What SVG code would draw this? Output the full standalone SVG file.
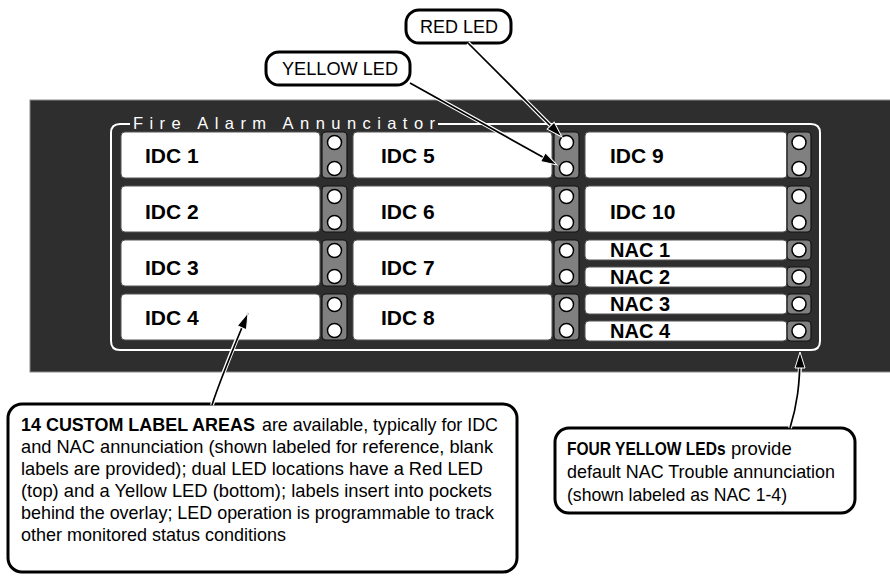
<svg xmlns="http://www.w3.org/2000/svg" width="890" height="576" viewBox="0 0 890 576">
<defs>
<style>
.lbl{fill:#fff;stroke:#555;stroke-width:1}
.strip{fill:#808080;stroke:#111;stroke-width:1.2}
.led{fill:#fff;stroke:#000;stroke-width:1.5}
.id{font-family:"Liberation Sans",Arial,sans-serif;font-weight:bold;font-size:21px;fill:#000}
.nac{font-family:"Liberation Sans",Arial,sans-serif;font-weight:bold;font-size:20px;fill:#000}
.callbox{fill:#fff;stroke:#000;stroke-width:3}
.ct{font-family:"Liberation Sans Narrow","Liberation Sans",Arial,sans-serif;font-size:18.5px;fill:#000}
.b{font-weight:bold}
.halo{fill:none;stroke:#fff;stroke-width:4}
.core{fill:none;stroke:#000;stroke-width:1.7;marker-end:url(#ah)}
</style>
<marker id="ah" markerUnits="userSpaceOnUse" viewBox="0 0 18 12" refX="17" refY="6" markerWidth="18" markerHeight="12" orient="auto">
<path d="M1,1 L17,6 L1,11 z" fill="#000" stroke="#fff" stroke-width="1"/>
</marker>
</defs>

<g id="panel">
<rect x="30" y="100" width="862" height="272" fill="#2e2e2e" stroke="#8a8a8a" stroke-width="1"/>
<path d="M130,124 L120,124 Q111,124 111,133 L111,341 Q111,350 120,350 L811,350 Q820,350 820,341 L820,133 Q820,124 811,124 L438,124" fill="none" stroke="#fff" stroke-width="2"/>
<text x="133" y="129" font-family="Liberation Sans,Arial,sans-serif" font-size="16.5" fill="#fff" textLength="302" lengthAdjust="spacing">Fire Alarm Annunciator</text>
</g>

<g id="idc1"><rect class="lbl" x="121" y="132" width="199" height="46" rx="4"/><rect class="strip" x="322" y="132" width="25" height="46" rx="4"/><circle class="led" cx="334.5" cy="142.5" r="7"/><circle class="led" cx="334.5" cy="168.5" r="7"/><text class="id" x="145" y="163">IDC 1</text></g>
<g id="idc2"><rect class="lbl" x="121" y="186" width="199" height="46" rx="4"/><rect class="strip" x="322" y="186" width="25" height="46" rx="4"/><circle class="led" cx="334.5" cy="196.5" r="7"/><circle class="led" cx="334.5" cy="222.5" r="7"/><text class="id" x="145" y="219">IDC 2</text></g>
<g id="idc3"><rect class="lbl" x="121" y="240" width="199" height="46" rx="4"/><rect class="strip" x="322" y="240" width="25" height="46" rx="4"/><circle class="led" cx="334.5" cy="250.5" r="7"/><circle class="led" cx="334.5" cy="276.5" r="7"/><text class="id" x="145" y="275">IDC 3</text></g>
<g id="idc4"><rect class="lbl" x="121" y="294" width="199" height="46" rx="4"/><rect class="strip" x="322" y="294" width="25" height="46" rx="4"/><circle class="led" cx="334.5" cy="304.5" r="7"/><circle class="led" cx="334.5" cy="330.5" r="7"/><text class="id" x="145" y="325">IDC 4</text></g>

<g id="idc5"><rect class="lbl" x="353" y="132" width="199" height="46" rx="4"/><rect class="strip" x="554" y="132" width="25" height="46" rx="4"/><circle class="led" cx="566.5" cy="142.5" r="7"/><circle class="led" cx="566.5" cy="168.5" r="7"/><text class="id" x="381" y="163">IDC 5</text></g>
<g id="idc6"><rect class="lbl" x="353" y="186" width="199" height="46" rx="4"/><rect class="strip" x="554" y="186" width="25" height="46" rx="4"/><circle class="led" cx="566.5" cy="196.5" r="7"/><circle class="led" cx="566.5" cy="222.5" r="7"/><text class="id" x="381" y="219">IDC 6</text></g>
<g id="idc7"><rect class="lbl" x="353" y="240" width="199" height="46" rx="4"/><rect class="strip" x="554" y="240" width="25" height="46" rx="4"/><circle class="led" cx="566.5" cy="250.5" r="7"/><circle class="led" cx="566.5" cy="276.5" r="7"/><text class="id" x="381" y="275">IDC 7</text></g>
<g id="idc8"><rect class="lbl" x="353" y="294" width="199" height="46" rx="4"/><rect class="strip" x="554" y="294" width="25" height="46" rx="4"/><circle class="led" cx="566.5" cy="304.5" r="7"/><circle class="led" cx="566.5" cy="330.5" r="7"/><text class="id" x="381" y="325">IDC 8</text></g>

<g id="idc9"><rect class="lbl" x="585" y="132" width="202" height="46" rx="4"/><rect class="strip" x="787" y="132" width="24" height="46" rx="4"/><circle class="led" cx="799" cy="142.5" r="7"/><circle class="led" cx="799" cy="168.5" r="7"/><text class="id" x="610" y="163">IDC 9</text></g>
<g id="idc10"><rect class="lbl" x="585" y="186" width="202" height="46" rx="4"/><rect class="strip" x="787" y="186" width="24" height="46" rx="4"/><circle class="led" cx="799" cy="196.5" r="7"/><circle class="led" cx="799" cy="222.5" r="7"/><text class="id" x="610" y="219">IDC 10</text></g>

<g id="nac1"><rect class="lbl" x="585" y="240" width="202" height="20" rx="4"/><rect class="strip" x="787" y="240" width="24" height="20" rx="4"/><circle class="led" cx="799" cy="250" r="7"/><text class="nac" x="610" y="257">NAC 1</text></g>
<g id="nac2"><rect class="lbl" x="585" y="267" width="202" height="20" rx="4"/><rect class="strip" x="787" y="267" width="24" height="20" rx="4"/><circle class="led" cx="799" cy="277" r="7"/><text class="nac" x="610" y="284">NAC 2</text></g>
<g id="nac3"><rect class="lbl" x="585" y="294" width="202" height="20" rx="4"/><rect class="strip" x="787" y="294" width="24" height="20" rx="4"/><circle class="led" cx="799" cy="304" r="7"/><text class="nac" x="610" y="311">NAC 3</text></g>
<g id="nac4"><rect class="lbl" x="585" y="321" width="202" height="20" rx="4"/><rect class="strip" x="787" y="321" width="24" height="20" rx="4"/><circle class="led" cx="799" cy="331" r="7"/><text class="nac" x="610" y="338">NAC 4</text></g>

<g id="callout-red"><rect class="callbox" x="406" y="10" width="105" height="33" rx="13"/><text class="ct" x="420" y="33" textLength="78" lengthAdjust="spacingAndGlyphs">RED LED</text></g>
<g id="callout-yellow"><rect class="callbox" x="266" y="52" width="144" height="33" rx="13"/><text class="ct" x="282" y="75" textLength="116" lengthAdjust="spacingAndGlyphs">YELLOW LED</text></g>

<g id="callout-custom">
<rect class="callbox" x="8" y="404" width="509" height="168" rx="14"/>
<text class="ct b" transform="translate(21,431) scale(0.97,1)" x="0" y="0">14 CUSTOM LABEL AREAS</text>
<text class="ct" x="262" y="431" textLength="236" lengthAdjust="spacingAndGlyphs">are available, typically for IDC</text>
<text class="ct" x="21" y="453" textLength="472" lengthAdjust="spacingAndGlyphs">and NAC annunciation (shown labeled for reference, blank</text>
<text class="ct" x="21" y="475" textLength="462" lengthAdjust="spacingAndGlyphs">labels are provided); dual LED locations have a Red LED</text>
<text class="ct" x="21" y="497" textLength="471" lengthAdjust="spacingAndGlyphs">(top) and a Yellow LED (bottom); labels insert into pockets</text>
<text class="ct" x="21" y="519" textLength="473" lengthAdjust="spacingAndGlyphs">behind the overlay; LED operation is programmable to track</text>
<text class="ct" x="21" y="541" textLength="265" lengthAdjust="spacingAndGlyphs">other monitored status conditions</text>
</g>

<g id="callout-four">
<rect class="callbox" x="555" y="428" width="300" height="85" rx="14"/>
<text class="ct b" transform="translate(567,455) scale(0.84,1)" x="0" y="0">FOUR YELLOW LEDs</text>
<text class="ct" x="731" y="455">provide</text>
<text class="ct" x="567" y="478" textLength="268" lengthAdjust="spacingAndGlyphs">default NAC Trouble annunciation</text>
<text class="ct" x="567" y="501" textLength="220" lengthAdjust="spacingAndGlyphs">(shown labeled as NAC 1-4)</text>
</g>

<g id="connectors">
<path class="halo" d="M468,43 L551,126"/>
<path class="core" d="M468,43 L562,137"/>
<path class="halo" d="M410,83 L545,158"/>
<path class="core" d="M410,83 L557,165"/>
<path class="halo" d="M212,405 Q220,380 243,324"/>
<path class="core" d="M212,405 Q220,380 248,313"/>
<path class="halo" d="M790,428 C797,405 800,385 800,364"/>
<path class="core" d="M790,428 C797,405 800,385 800,352"/>
</g>
</svg>
